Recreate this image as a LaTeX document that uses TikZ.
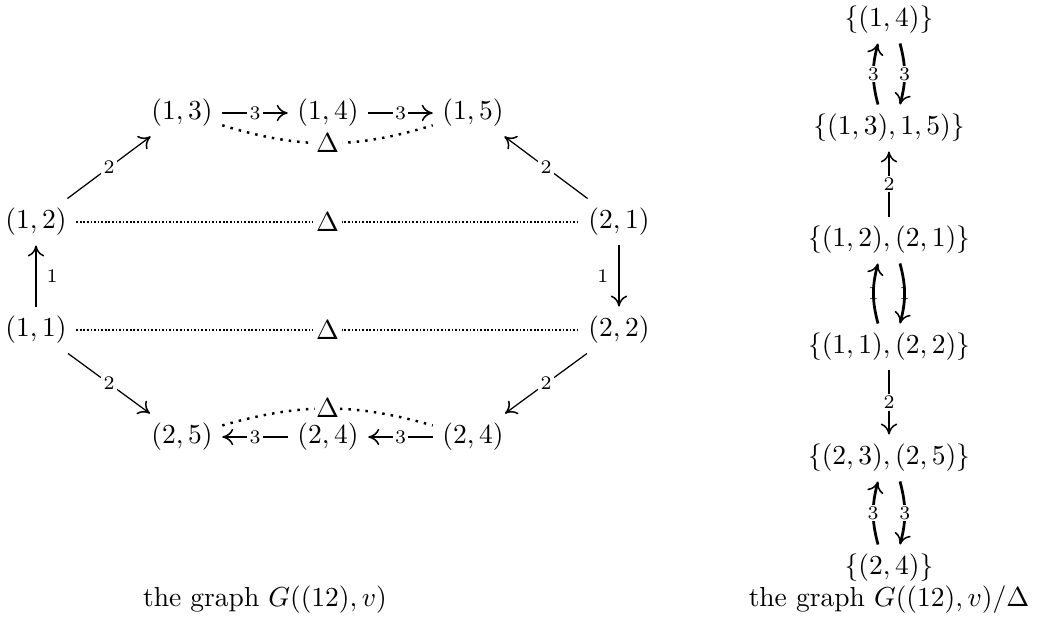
\documentclass[tikz,border=0pt]{standalone}
\usetikzlibrary{arrows.meta,positioning,calc}

\begin{document}
\begin{tikzpicture}[
    x=0.3636pt, y=-0.3636pt,
    >={Computer Modern Rightarrow[length=4pt,width=6pt,line width=0.55pt]}, % xy-style tips
    lbl/.style={font=\scriptsize, fill=white, inner sep=0.8pt},
    heavy/.style={line width=1pt},
    light/.style={line width=0.45pt},
    delta/.style={line width=0.7pt, dash pattern=on 0.6pt off 0.7pt},
    deltaarc/.style={line width=0.9pt, dash pattern=on 0.9pt off 2.2pt}
]
    \useasboundingbox (0,0) rectangle (1042,630);

    % --- the graph G((12),v) ---
    \node (P13)  at (182,113) {$(1,3)$};
    \node (P14)  at (328,113) {$(1,4)$};
    \node (P15)  at (473,113) {$(1,5)$};
    \node (P12)  at (36,222)  {$(1,2)$};
    \node (P21)  at (619,222) {$(2,1)$};
    \node (P11)  at (36,330)  {$(1,1)$};
    \node (P22)  at (619,330) {$(2,2)$};
    \node (P25)  at (182,437) {$(2,5)$};
    \node (P24)  at (328,437) {$(2,4)$};
    \node (P24r) at (473,437) {$(2,4)$};

    % 1. horizontal 3-arrows
    \draw[heavy,->] (P13) -- node[lbl] {$3$} (P14);
    \draw[heavy,->] (P14) -- node[lbl] {$3$} (P15);
    \draw[heavy,->] (P24r) -- node[lbl] {$3$} (P24);
    \draw[heavy,->] (P24) -- node[lbl] {$3$} (P25);

    % 2. vertical 1-arrows
    \draw[heavy,->] (P11) -- node[right, font=\scriptsize] {$1$} (P12);
    \draw[heavy,->] (P21) -- node[left, font=\scriptsize] {$1$} (P22);

    % 3. diagonal 2-arrows
    \draw[light,->] (P12) -- node[lbl] {$2$} (P13);
    \draw[light,->] (P21) -- node[lbl] {$2$} (P15);
    \draw[light,->] (P11) -- node[lbl] {$2$} (P25);
    \draw[light,->] (P22) -- node[lbl] {$2$} (P24r);

    % 4. Delta lines
    \draw[delta] (P12) -- node[fill=white, inner sep=1pt] {$\Delta$} (P21);
    \draw[delta] (P11) -- node[fill=white, inner sep=1pt] {$\Delta$} (P22);
    \draw[deltaarc] (P13) to[bend right=17] node[fill=white, inner sep=1pt] {$\Delta$} (P15);
    \draw[deltaarc] (P25) to[bend left=16] node[fill=white, inner sep=0.5pt] {$\Delta$} (P24r);

    % --- the quotient graph ---
    \node (Q14)   at (889,20)  {$\{(1,4)\}$};
    \node (Q1315) at (889,128) {$\{(1,3),1,5)\}$};
    \node (Q1221) at (889,240) {$\{(1,2),(2,1)\}$};
    \node (Q1122) at (889,347) {$\{(1,1),(2,2)\}$};
    \node (Q2325) at (889,458) {$\{(2,3),(2,5)\}$};
    \node (Q24)   at (889,568) {$\{(2,4)\}$};

    \draw[heavy,->] ([xshift=-4pt]Q1315.north) to[bend left=15] node[lbl] {$3$} ([xshift=-4pt]Q14.south);
    \draw[heavy,->] ([xshift=4pt]Q14.south) to[bend left=15] node[lbl] {$3$} ([xshift=4pt]Q1315.north);
    \draw[heavy,->] (Q1221) -- node[lbl] {$2$} (Q1315);
    \draw[heavy,->] ([xshift=-4pt]Q1122.north) to[bend left=15] node[font=\scriptsize, inner sep=0pt] {$1$} ([xshift=-4pt]Q1221.south);
    \draw[heavy,->] ([xshift=4pt]Q1221.south) to[bend left=15] node[font=\scriptsize, inner sep=0pt] {$1$} ([xshift=4pt]Q1122.north);
    \draw[heavy,->] (Q1122) -- node[lbl] {$2$} (Q2325);
    \draw[heavy,->] ([xshift=-4pt]Q24.north) to[bend left=15] node[lbl] {$3$} ([xshift=-4pt]Q2325.south);
    \draw[heavy,->] ([xshift=4pt]Q2325.south) to[bend left=15] node[lbl] {$3$} ([xshift=4pt]Q24.north);

    % --- captions ---
    \node (capL) at (265,600) {the graph $G((12),v)$};
    \node (capR) at (889,600) {the graph $G((12),v)/\Delta$};
\end{tikzpicture}
\end{document}
